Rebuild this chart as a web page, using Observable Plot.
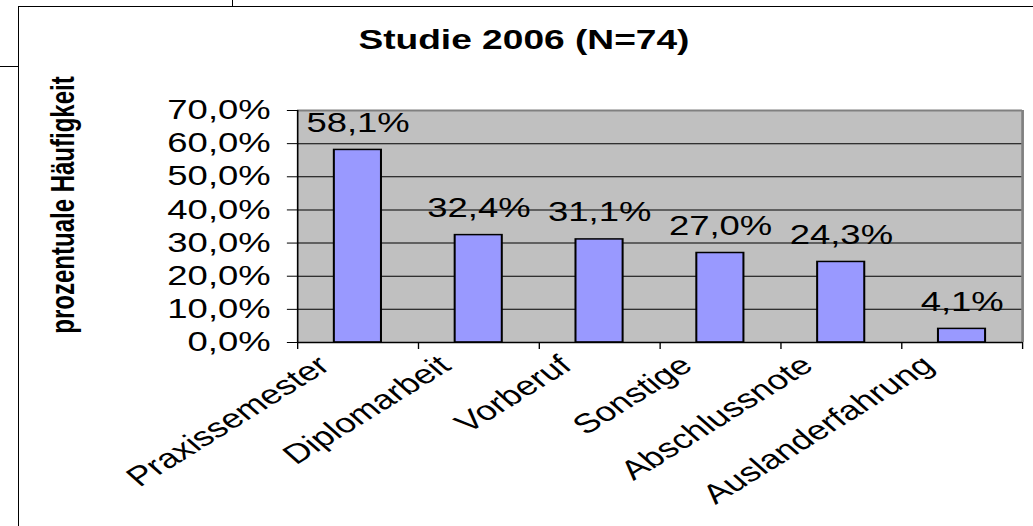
<!DOCTYPE html>
<html><head><meta charset="utf-8">
<script src="https://cdn.jsdelivr.net/npm/d3@7"></script>
<script src="https://cdn.jsdelivr.net/npm/@observablehq/plot@0.6"></script>
<style>
html,body{margin:0;padding:0;background:#fff;width:1033px;height:526px;overflow:hidden;}
#frame{position:absolute;left:18px;top:6px;width:1020px;height:530px;border-top:1.5px solid #000;border-left:1.5px solid #000;}
#mark1{position:absolute;left:232px;top:0;width:0;height:6px;border-left:1px solid #000;}
#mark2{position:absolute;left:0;top:66px;width:18px;height:0;border-top:1px solid #000;}
#wrap{position:absolute;left:0;top:0;height:526px;transform:scaleX(1.35);transform-origin:0 0;}
</style></head><body>
<div id="frame"></div><div id="mark1"></div><div id="mark2"></div>
<div id="wrap"></div>
<script>
const title = "Studie 2006 (N=74)";
const yLabel = "prozentuale Häufigkeit";
const categories = ["Praxissemester", "Diplomarbeit", "Vorberuf", "Sonstige", "Abschlussnote", "Auslanderfahrung"];
const values = [58.1, 32.4, 31.1, 27.0, 24.3, 4.1];
const yTicks = [0, 10, 20, 30, 40, 50, 60, 70];

const S = 1.35;
const W = 1033 / S;
const fmt = v => v.toFixed(1).replace(".", ",") + "%";
const data = categories.map((c, i) => ({c, i, v: values[i]}));
const n = categories.length;
const font = "'Liberation Sans', Arial, sans-serif";

const chart = Plot.plot({
  width: W, height: 526,
  marginLeft: 220, marginRight: W - 757, marginTop: 110, marginBottom: 184,
  style: {fontFamily: font, background: "none", overflow: "visible", color: "#000"},
  x: {type: "linear", domain: [0, n], axis: null},
  y: {domain: [0, 70], axis: null},
  marks: [
    Plot.frame({fill: "#c0c0c0", stroke: "none"}),
    Plot.gridY({ticks: yTicks.filter(t => t > 0 && t < 70), stroke: "#000", strokeOpacity: 1, strokeWidth: 1}),
    Plot.ruleY([70], {stroke: "#808080", strokeWidth: 2}),
    Plot.ruleX([n], {stroke: "#808080", strokeWidth: 2}),
    Plot.rectY(data, {x1: d => d.i + 0.305, x2: d => d.i + 0.695, y1: 0, y2: "v", fill: "#9999ff", stroke: "#000", strokeWidth: 1.5}),
    Plot.ruleX([0], {stroke: "#000", strokeWidth: 1.2}),
    Plot.ruleY([0], {stroke: "#000", strokeWidth: 1.5}),
    Plot.axisX({ticks: d3.range(n + 1), tickSize: 7, tickFormat: () => "", stroke: "#000", label: null}),
    Plot.axisY({ticks: yTicks, tickSize: 7.5, tickPadding: 12.5, tickFormat: fmt, fontSize: 27, label: null, stroke: "#000", fill: "#000"}),
    Plot.text(data, {x: d => d.i + 0.5, y: "v", text: d => fmt(d.v), dy: -18, lineAnchor: "bottom", fontSize: 27, fill: "#000"}),
    Plot.text(data, {x: d => d.i + 0.5, y: 0, text: "c", rotate: -40, textAnchor: "end", lineAnchor: "middle", dx: -25, dy: 19, fontSize: 27, fill: "#000"}),
    Plot.text([title], {frameAnchor: "top-left", text: d => d, dx: 167.6, dy: -61, textAnchor: "middle", lineAnchor: "bottom", fontSize: 27.5, fontWeight: "bold", fill: "#000"}),
    Plot.text([yLabel], {frameAnchor: "left", text: d => d, dx: -166, dy: -21.5, rotate: -90, textAnchor: "middle", lineAnchor: "bottom", fontSize: 24, fontWeight: "bold", fill: "#000"})
  ]
});
const wrap = document.getElementById("wrap");
wrap.style.width = W + "px";
wrap.appendChild(chart);
</script>
</body></html>
